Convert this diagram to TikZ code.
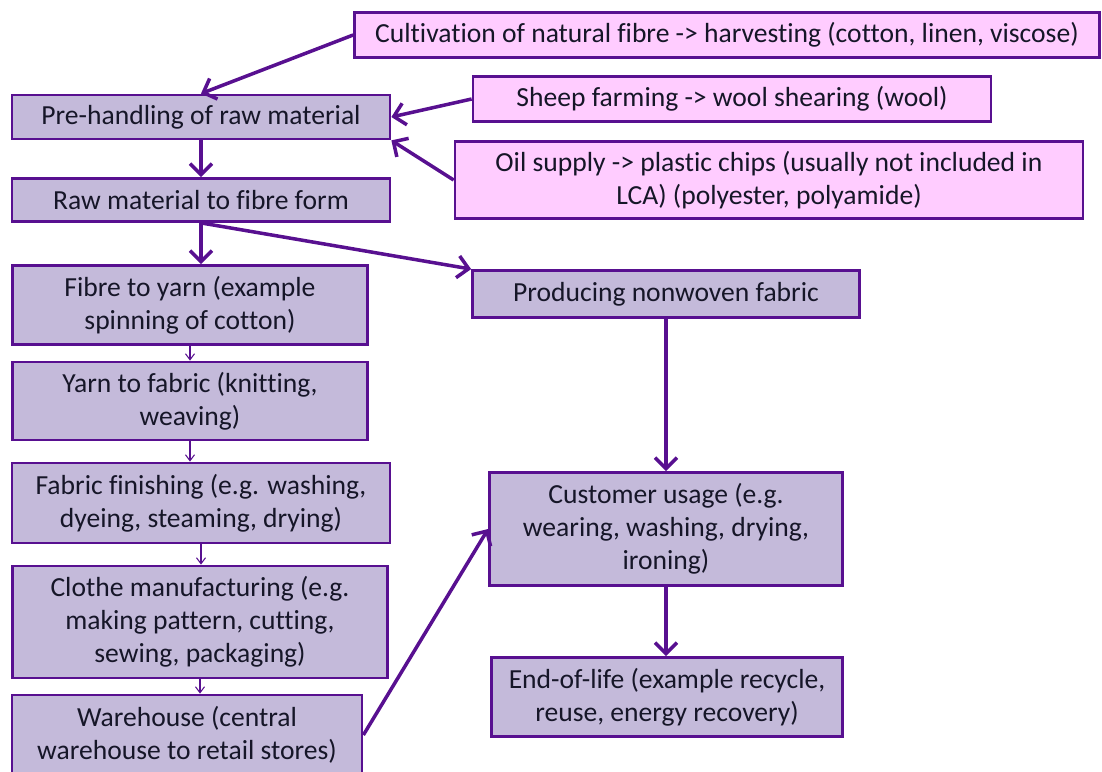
\documentclass[tikz,border=0pt]{standalone}
\usepackage{fontspec}
\setmainfont{Carlito}[Ligatures=NoCommon]
\usetikzlibrary{arrows.meta}

\definecolor{lcaline}{RGB}{88,16,144}
\definecolor{lcastep}{RGB}{196,186,218}
\definecolor{lcasource}{RGB}{255,204,255}
\definecolor{lcatext}{RGB}{22,22,40}

\tikzset{
	stepbox/.style={draw=lcaline, line width=1.6pt, fill=lcastep, align=center, inner sep=0pt,
		font=\fontsize{15.7}{18.8}\selectfont, text=lcatext},
	sourcebox/.style={stepbox, fill=lcasource},
	flow/.style={draw=lcaline, line width=2pt, -{Straight Barb[length=2.2mm,width=4.4mm]}},
	thinflow/.style={draw=lcaline, line width=0.6pt, -{Straight Barb[length=1.2mm,width=1.8mm]}},
}

\begin{document}
\begin{tikzpicture}[x=0.02cm, y=-0.02cm]
	\useasboundingbox (0,0) rectangle (1102,771);

	\node[sourcebox, minimum width=14.9cm, minimum height=0.9cm] (cult) at (727,35) {Cultivation of natural fibre -> harvesting (cotton, linen, viscose)};
	\node[sourcebox, minimum width=10.36cm, minimum height=0.9cm] (sheep) at (732,99) {Sheep farming -> wool shearing (wool)};
	\node[sourcebox, minimum width=12.56cm, minimum height=1.54cm] (oil) at (769,180) {Oil supply -> plastic chips (usually not included in\\LCA) (polyester, polyamide)};

	\node[stepbox, minimum width=7.56cm, minimum height=0.88cm] (pre) at (201,117) {Pre-handling of raw material};
	\node[stepbox, minimum width=7.56cm, minimum height=0.86cm] (raw) at (201,200) {Raw material to fibre form};
	\node[stepbox, minimum width=7.1cm, minimum height=1.58cm] (fib) at (190,305) {Fibre to yarn (example\\spinning of cotton)};
	\node[stepbox, minimum width=7.1cm, minimum height=1.56cm] (yarn) at (190,401) {Yarn to fabric (knitting,\\weaving)};
	\node[stepbox, minimum width=7.56cm, minimum height=1.6cm] (finish) at (201,503) {Fabric finishing (e.g. washing,\\dyeing, steaming, drying)};
	\node[stepbox, minimum width=7.5cm, minimum height=2.24cm] (clothe) at (200,622) {Clothe manufacturing (e.g.\\making pattern, cutting,\\sewing, packaging)};
	\node[stepbox, minimum width=7.0cm, minimum height=1.6cm] (ware) at (187,735) {Warehouse (central\\warehouse to retail stores)};

	\node[stepbox, minimum width=7.74cm, minimum height=0.94cm] (nonwoven) at (666,294) {Producing nonwoven fabric};
	\node[stepbox, minimum width=7.06cm, minimum height=2.26cm] (cust) at (666,529) {Customer usage (e.g.\\wearing, washing, drying,\\ironing)};
	\node[stepbox, minimum width=7.02cm, minimum height=1.58cm] (end) at (667,697) {End-of-life (example recycle,\\reuse, energy recovery)};

	\draw[flow] (cult.west) -- (pre.north);
	\draw[flow] (sheep.west) -- (pre.east);
	\draw[flow] (oil.west) -- (pre.south east);
	\draw[flow] (pre) -- (raw);
	\draw[flow] (raw.south) -- (raw.south |- fib.north);
	\draw[flow] (raw.south) -- (nonwoven.north west);

	\draw[thinflow] (fib) -- (yarn);
	\draw[thinflow] (yarn.south) -- (yarn.south |- finish.north);
	\draw[thinflow] (finish.south) -- (finish.south |- clothe.north);
	\draw[thinflow] (clothe.south) -- (clothe.south |- ware.north);

	\draw[flow] (ware.east) -- (cust.west);
	\draw[flow] (nonwoven) -- (cust);
	\draw[flow] (cust.south) -- (cust.south |- end.north);
\end{tikzpicture}
\end{document}
